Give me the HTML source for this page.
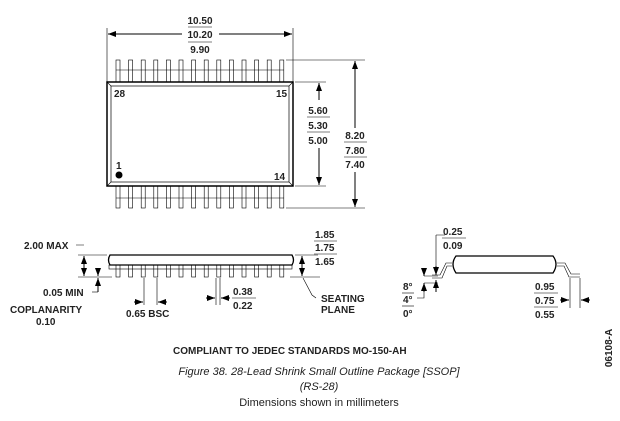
<!DOCTYPE html>
<html><head><style>
body{margin:0;background:#fff;}
svg{display:block;font-family:"Liberation Sans",sans-serif;}
.t{font-size:10px;font-weight:bold;fill:#222;}
.ln{stroke:#000;stroke-width:1;fill:none;}
.th{stroke:#000;stroke-width:0.6;fill:none;}
</style></head><body>
<svg width="620" height="421" viewBox="0 0 620 421" xmlns="http://www.w3.org/2000/svg">
<defs>
<marker id="a" markerWidth="8" markerHeight="6" refX="8" refY="3" orient="auto-start-reverse"><path d="M0,0L8,3L0,6z" fill="#000"/></marker>
</defs>
<g class="th" id="lt">
<rect x="116" y="60" width="4" height="22"/><rect x="128.6" y="60" width="4" height="22"/><rect x="141.2" y="60" width="4" height="22"/><rect x="153.8" y="60" width="4" height="22"/><rect x="166.4" y="60" width="4" height="22"/><rect x="179" y="60" width="4" height="22"/><rect x="191.6" y="60" width="4" height="22"/><rect x="204.2" y="60" width="4" height="22"/><rect x="216.8" y="60" width="4" height="22"/><rect x="229.4" y="60" width="4" height="22"/><rect x="242" y="60" width="4" height="22"/><rect x="254.6" y="60" width="4" height="22"/><rect x="267.2" y="60" width="4" height="22"/><rect x="279.8" y="60" width="4" height="22"/>
</g>
<use href="#lt" transform="translate(0,126)"/>
<path class="th" d="M116,70h168M116,198h168"/>
<rect x="107" y="82" width="186" height="104" fill="#fff" stroke="#000" stroke-width="1.5"/>
<rect x="111" y="86" width="178" height="96" fill="none" stroke="#000" stroke-width="0.7"/>
<path class="th" d="M107,82l4,4M293,82l-4,4M107,186l4,-4M293,186l-4,-4"/>
<text class="t" x="114" y="97" font-size="8">28</text>
<text class="t" x="276" y="97" font-size="8">15</text>
<text class="t" x="116" y="169" font-size="8">1</text>
<circle cx="119" cy="175" r="3.5" fill="#000"/>
<text class="t" x="274" y="180" font-size="8">14</text>
<path class="th" d="M107,28V82M293,28V82"/>
<path class="ln" d="M182,34H108" marker-end="url(#a)"/>
<path class="ln" d="M219,34H292" marker-end="url(#a)"/>
<text class="t" x="200" y="24" text-anchor="middle">10.50</text>
<line class="th" x1="188" y1="27" x2="212" y2="27"/>
<text class="t" x="200" y="38" text-anchor="middle">10.20</text>
<line class="th" x1="188" y1="42" x2="212" y2="42"/>
<text class="t" x="200" y="53" text-anchor="middle">9.90</text>
<path class="th" d="M295,82H326M295,186H326M286,60H365M286,208H365"/>
<path class="ln" d="M319,100V83" marker-end="url(#a)"/>
<path class="ln" d="M319,148V185" marker-end="url(#a)"/>
<text class="t" x="318" y="114" text-anchor="middle">5.60</text>
<line class="th" x1="307" y1="117" x2="330" y2="117"/>
<text class="t" x="318" y="129" text-anchor="middle">5.30</text>
<line class="th" x1="307" y1="132" x2="330" y2="132"/>
<text class="t" x="318" y="144" text-anchor="middle">5.00</text>
<path class="ln" d="M355,128V61" marker-end="url(#a)"/>
<path class="ln" d="M355,172V207" marker-end="url(#a)"/>
<text class="t" x="355" y="139" text-anchor="middle">8.20</text>
<line class="th" x1="344" y1="142" x2="367" y2="142"/>
<text class="t" x="355" y="154" text-anchor="middle">7.80</text>
<line class="th" x1="344" y1="157" x2="367" y2="157"/>
<text class="t" x="355" y="168" text-anchor="middle">7.40</text>
<!-- side view -->
<path d="M110,255H292Q295,260 292,265H110Q107,260 110,255z" fill="#fff" stroke="#000" stroke-width="1.3"/>
<g class="th">
<rect x="109" y="265" width="183" height="4"/>
<rect x="116" y="265" width="4" height="12"/><rect x="128.6" y="265" width="4" height="12"/><rect x="141.2" y="265" width="4" height="12"/><rect x="153.8" y="265" width="4" height="12"/><rect x="166.4" y="265" width="4" height="12"/><rect x="179" y="265" width="4" height="12"/><rect x="191.6" y="265" width="4" height="12"/><rect x="204.2" y="265" width="4" height="12"/><rect x="216.8" y="265" width="4" height="12"/><rect x="229.4" y="265" width="4" height="12"/><rect x="242" y="265" width="4" height="12"/><rect x="254.6" y="265" width="4" height="12"/><rect x="267.2" y="265" width="4" height="12"/><rect x="279.8" y="265" width="4" height="12"/>
</g>
<path class="th" d="M78,255H107M78,277H112M290,277H320M295,255H318M76,245H84"/>
<text class="t" x="24" y="249">2.00 MAX</text>
<path class="ln" d="M84,256V276" marker-start="url(#a)" marker-end="url(#a)"/>
<path class="ln" d="M98,268V276" marker-end="url(#a)"/>
<path class="ln" d="M98,292V278" marker-end="url(#a)"/>
<path class="th" d="M98,292H92"/>
<text class="t" x="43" y="296">0.05 MIN</text>
<text class="t" x="10" y="313">COPLANARITY</text>
<text class="t" x="36" y="325">0.10</text>
<path class="th" d="M144,278V305M157,278V305M216,278V305M220,278V305"/>
<path class="ln" d="M134,302H143" marker-end="url(#a)"/>
<path class="ln" d="M167,302H158" marker-end="url(#a)"/>
<text class="t" x="126" y="317">0.65 BSC</text>
<path class="ln" d="M206,298H215" marker-end="url(#a)"/>
<path class="ln" d="M230,298H221" marker-end="url(#a)"/>
<text class="t" x="233" y="295">0.38</text>
<line class="th" x1="232" y1="298" x2="256" y2="298"/>
<text class="t" x="233" y="309">0.22</text>
<path class="ln" d="M302,256V276" marker-start="url(#a)" marker-end="url(#a)"/>
<text class="t" x="315" y="238">1.85</text>
<line class="th" x1="314" y1="241" x2="337" y2="241"/>
<text class="t" x="315" y="251">1.75</text>
<line class="th" x1="314" y1="254" x2="337" y2="254"/>
<text class="t" x="315" y="265">1.65</text>
<path class="th" d="M303,278L312,295L316,298"/>
<text class="t" x="321" y="302">SEATING</text>
<text class="t" x="321" y="313">PLANE</text>
<!-- end view -->
<path d="M456,256H553Q559,264 553,273H456Q450,264 456,256z" fill="#fff" stroke="#000" stroke-width="1.3"/>
<path class="th" d="M452,263H446L440,275H432M452,266H447L442,278H432M557,263H565L571,274H580M557,266H564L569,277H580"/>
<path class="th" d="M436,235H445M436,235V275M424,276H438M424,283H438"/>
<path class="ln" d="M436,266V275" marker-end="url(#a)"/>
<path class="ln" d="M436,292V280" marker-end="url(#a)"/>
<path class="ln" d="M424,268V276" marker-end="url(#a)"/>
<path class="ln" d="M424,292V283" marker-end="url(#a)"/>
<path class="th" d="M424,292V298H417"/>
<text class="t" x="443" y="235">0.25</text>
<line class="th" x1="442" y1="238" x2="466" y2="238"/>
<text class="t" x="443" y="249">0.09</text>
<text class="t" x="403" y="290">8°</text>
<line class="th" x1="402" y1="293" x2="414" y2="293"/>
<text class="t" x="403" y="303">4°</text>
<line class="th" x1="402" y1="306" x2="414" y2="306"/>
<text class="t" x="403" y="317">0°</text>
<path class="th" d="M570,278V308M580,278V308"/>
<path class="ln" d="M560,300H569" marker-end="url(#a)"/>
<path class="ln" d="M590,300H581" marker-end="url(#a)"/>
<text class="t" x="535" y="290">0.95</text>
<line class="th" x1="534" y1="293" x2="558" y2="293"/>
<text class="t" x="535" y="304">0.75</text>
<line class="th" x1="534" y1="307" x2="558" y2="307"/>
<text class="t" x="535" y="318">0.55</text>
<text class="t" x="0" y="0" font-size="7" transform="translate(612,348) rotate(-90)" text-anchor="middle">06108-A</text>
<text class="t" x="173" y="354">COMPLIANT TO JEDEC STANDARDS MO-150-AH</text>
<text x="319" y="375" text-anchor="middle" font-size="11" font-style="italic" fill="#222">Figure 38. 28-Lead Shrink Small Outline Package [SSOP]</text>
<text x="319" y="390" text-anchor="middle" font-size="11" font-style="italic" fill="#222">(RS-28)</text>
<text x="319" y="406" text-anchor="middle" font-size="11" fill="#222">Dimensions shown in millimeters</text>
</svg>
</body></html>
